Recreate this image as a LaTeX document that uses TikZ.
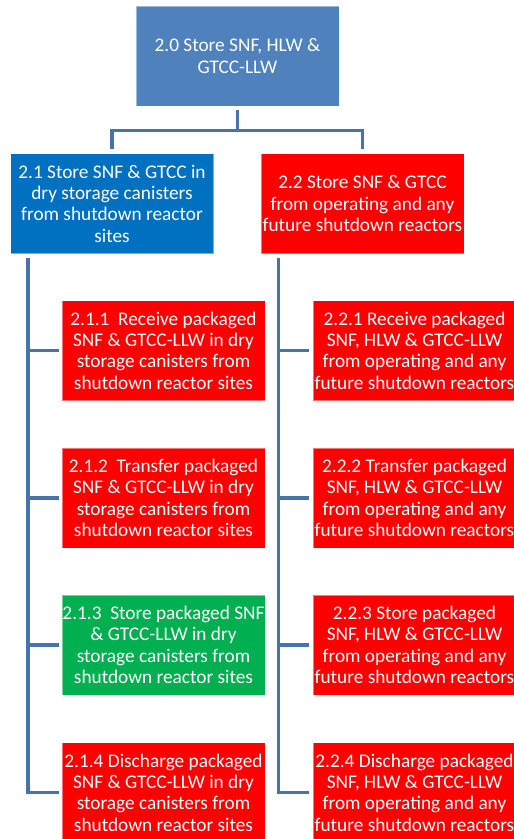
\documentclass[tikz,border=0pt]{standalone}
\usepackage{fontspec}
\setmainfont{Carlito}
\usetikzlibrary{calc}

\definecolor{topblue}{HTML}{4F81BD}
\definecolor{midblue}{HTML}{0070C0}
\definecolor{taskred}{HTML}{FF0000}
\definecolor{taskgreen}{HTML}{00B050}
\definecolor{linkblue}{HTML}{4674AA}

\tikzset{
  box/.style={rectangle, minimum width=203pt, minimum height=100pt, inner sep=0pt,
    align=center, text=white, draw=white, draw opacity=0.45, line width=0.8pt,
    font=\fontsize{19.3}{21.3}\selectfont},
  rootbox/.style={box, fill=topblue},
  groupbox/.style={box, fill=midblue},
  redbox/.style={box, fill=taskred},
  greenbox/.style={box, fill=taskgreen},
  conn/.style={draw=linkblue, line width=3.6pt, line join=miter, line cap=butt}
}

\begin{document}
\begin{tikzpicture}[x=1pt, y=-1pt]
\useasboundingbox (0,0) rectangle (514,839);
\clip (0,0) rectangle (514,839);
\fill[white] (0,0) rectangle (514,839);

% top level
\node[rootbox] (top) at (237.5,56) {2.0 Store SNF, HLW \&\\GTCC-LLW};

% second level
\node[groupbox] (n21) at (112,203.5) {2.1 Store SNF \& GTCC in\\dry storage canisters\\from shutdown reactor\\sites};
\node[redbox] (n22) at (362.5,203.5) {2.2 Store SNF \& GTCC\\from operating and any\\future shutdown reactors};

% tasks under 2.1
\node[redbox] (n211) at (163.5,350.5) {2.1.1\ \ Receive packaged\\SNF \& GTCC-LLW in dry\\storage canisters from\\shutdown reactor sites};
\node[redbox] (n212) at (163.5,498) {2.1.2\ \ Transfer packaged\\SNF \& GTCC-LLW in dry\\storage canisters from\\shutdown reactor sites};
\node[greenbox] (n213) at (163.5,645) {2.1.3\ \ Store packaged SNF\\\& GTCC-LLW in dry\\storage canisters from\\shutdown reactor sites};
\node[redbox] (n214) at (163.5,792.5) {2.1.4 Discharge packaged\\SNF \& GTCC-LLW in dry\\storage canisters from\\shutdown reactor sites};

% tasks under 2.2
\node[redbox] (n221) at (414.5,350.5) {2.2.1 Receive packaged\\SNF, HLW \& GTCC-LLW\\from operating and any\\future shutdown reactors};
\node[redbox] (n222) at (414.5,498) {2.2.2 Transfer packaged\\SNF, HLW \& GTCC-LLW\\from operating and any\\future shutdown reactors};
\node[redbox] (n223) at (414.5,645) {2.2.3 Store packaged\\SNF, HLW \& GTCC-LLW\\from operating and any\\future shutdown reactors};
\node[redbox] (n224) at (414.5,792.5) {2.2.4 Discharge packaged\\SNF, HLW \& GTCC-LLW\\from operating and any\\future shutdown reactors};

% root to second level
\coordinate (bar) at ($(top.south)+(0,24)$);
\draw[conn] ($(top.south)+(0,4)$) -- (bar);
\draw[conn] ($(n21.north)+(0,-4)$) |- (bar) -| ($(n22.north)+(0,-4)$);

% spines
\coordinate (ls) at ($(n21.south west)+(18,4)$);
\coordinate (rs) at ($(n22.south west)+(18,4)$);
\draw[conn] (ls) |- ($(n214.west)+(-3,0)$);
\draw[conn] (rs) |- ($(n224.west)+(-4,0)$);
\foreach \n in {n211,n212,n213}
  \draw[conn] (ls |- \n.west) -- ($(\n.west)+(-3,0)$);
\foreach \n in {n221,n222,n223}
  \draw[conn] (rs |- \n.west) -- ($(\n.west)+(-4,0)$);
\end{tikzpicture}
\end{document}
